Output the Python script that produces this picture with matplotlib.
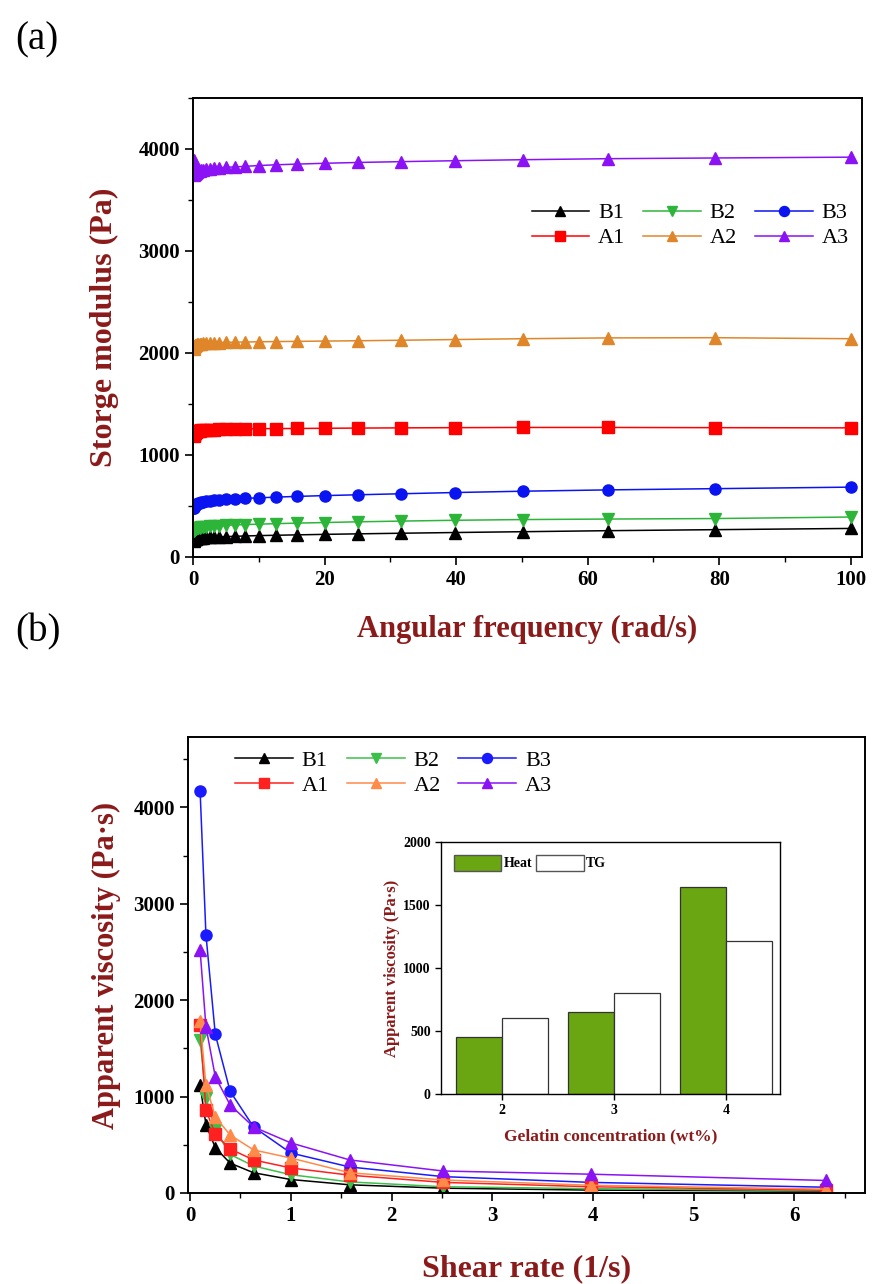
import matplotlib
matplotlib.use("Agg")
import matplotlib.pyplot as plt
from matplotlib.ticker import MultipleLocator
from matplotlib.patches import Patch

plt.rcParams['font.family'] = ['Liberation Serif', 'DejaVu Serif']

DARK_RED = '#8b1a1a'

# ---- (a) storage modulus vs angular frequency ----
freq = [0.1, 0.126, 0.158, 0.2, 0.251, 0.316, 0.398, 0.501, 0.631, 0.794,
        1.0, 1.26, 1.58, 2.0, 2.51, 3.16, 3.98, 5.01, 6.31, 7.94,
        10.0, 12.6, 15.8, 20.0, 25.1, 31.6, 39.8, 50.1, 63.1, 79.4, 100.0]

g_B1 = [160, 165, 168, 170, 172, 175, 177, 180, 182, 184,
        186, 188, 190, 192, 194, 196, 198, 200, 203, 206,
        210, 213, 217, 222, 227, 233, 240, 248, 258, 268, 280]
g_B2 = [255, 260, 265, 268, 271, 274, 277, 280, 283, 286,
        289, 292, 295, 298, 301, 304, 307, 310, 314, 318,
        322, 327, 332, 338, 345, 352, 360, 367, 372, 377, 392]
g_B3 = [480, 485, 490, 495, 500, 505, 510, 515, 520, 525,
        530, 535, 540, 545, 550, 555, 560, 565, 570, 575,
        580, 587, 594, 602, 610, 620, 632, 645, 658, 670, 685]
g_A1 = [1190, 1200, 1208, 1215, 1220, 1225, 1228, 1232, 1235, 1238,
        1240, 1242, 1244, 1246, 1248, 1250, 1252, 1254, 1255, 1256,
        1258, 1259, 1260, 1262, 1264, 1266, 1268, 1270, 1270, 1268, 1266]
g_A2 = [2040, 2050, 2058, 2065, 2070, 2074, 2078, 2082, 2085, 2088,
        2090, 2092, 2094, 2096, 2098, 2100, 2102, 2104, 2106, 2108,
        2110, 2112, 2114, 2117, 2120, 2125, 2132, 2140, 2148, 2150, 2140]
g_A3 = [3890, 3820, 3770, 3750, 3755, 3760, 3765, 3770, 3775, 3780,
        3785, 3790, 3795, 3800, 3805, 3810, 3815, 3820, 3825, 3830,
        3838, 3845, 3852, 3860, 3868, 3876, 3885, 3895, 3905, 3912, 3920]

# ---- (b) apparent viscosity vs shear rate ----
shear = [0.1, 0.158, 0.251, 0.398, 0.631, 1.0, 1.585, 2.512, 3.981, 6.31]

v_B1 = [1120, 710, 470, 310, 210, 140, 85, 50, 30, 20]
v_B2 = [1590, 990, 650, 400, 280, 190, 115, 65, 45, 25]
v_B3 = [4175, 2680, 1645, 1055, 685, 415, 270, 170, 110, 60]
v_A1 = [1740, 860, 612, 457, 343, 260, 185, 110, 65, 30]
v_A2 = [1780, 1120, 790, 602, 447, 363, 210, 135, 80, 40]
v_A3 = [2520, 1725, 1205, 914, 685, 520, 343, 228, 195, 130]

# ---- inset bars ----
conc = [2, 3, 4]
heat_visc = [455, 650, 1640]
tg_visc = [600, 800, 1215]

fig = plt.figure(figsize=(8.75, 12.84), dpi=100)
W, H = 875, 1284


def box(x0, y0, x1, y1):
    return [x0 / W, 1 - y1 / H, (x1 - x0) / W, (y1 - y0) / H]


def style_axes(ax, size=14):
    for s in ax.spines.values():
        s.set_linewidth(1.4)
    ax.tick_params(which='major', direction='out', length=6, width=1.2,
                   labelsize=size)
    ax.tick_params(which='minor', direction='out', length=3.5, width=1.0)
    for lab in ax.get_xticklabels() + ax.get_yticklabels():
        lab.set_fontweight('bold')


def row_legend(ax, **kw):
    # matplotlib fills legend columns first; reorder so rows read B1 B2 B3 / A1 A2 A3
    h, l = ax.get_legend_handles_labels()
    order = [0, 3, 1, 4, 2, 5]
    ax.legend([h[i] for i in order], [l[i] for i in order], ncol=3,
              frameon=False, fontsize=16, handlelength=2.6, columnspacing=0.8,
              handletextpad=0.4, labelspacing=0.2, markerscale=0.9, **kw)


# panel (a)
ax1 = fig.add_axes(box(193, 98, 862, 557))
series_a = [
    ('B1', g_B1, 'black', '^'),
    ('B2', g_B2, '#2db53a', 'v'),
    ('B3', g_B3, '#0a14f0', 'o'),
    ('A1', g_A1, '#ff0000', 's'),
    ('A2', g_A2, '#e0862a', '^'),
    ('A3', g_A3, '#8a12f5', '^'),
]
for name, vals, col, mk in series_a:
    ax1.plot(freq, vals, color=col, marker=mk, markersize=8, lw=1.1,
             label=name)
ax1.set_xlim(0, 101.7)
ax1.set_ylim(0, 4500)
ax1.xaxis.set_major_locator(MultipleLocator(20))
ax1.xaxis.set_minor_locator(MultipleLocator(10))
ax1.yaxis.set_major_locator(MultipleLocator(1000))
ax1.yaxis.set_minor_locator(MultipleLocator(500))
style_axes(ax1, 15)
ax1.set_xlabel('Angular frequency (rad/s)', fontsize=22, fontweight='bold',
               color=DARK_RED, labelpad=18)
ax1.set_ylabel('Storge modulus (Pa)', fontsize=23, fontweight='bold',
               color=DARK_RED, labelpad=14)
row_legend(ax1, loc='upper right', bbox_to_anchor=(1.01, 0.815))

# panel (b)
ax2 = fig.add_axes(box(188, 737, 865, 1193))
series_b = [
    ('B1', v_B1, 'black', '^'),
    ('B2', v_B2, '#3cc04a', 'v'),
    ('B3', v_B3, '#1a1aff', 'o'),
    ('A1', v_A1, '#ff2020', 's'),
    ('A2', v_A2, '#ff8a4a', '^'),
    ('A3', v_A3, '#8a12f5', '^'),
]
for name, vals, col, mk in series_b:
    ax2.plot(shear, vals, color=col, marker=mk, markersize=8, lw=1.1,
             label=name)
ax2.set_xlim(-0.02, 6.7)
ax2.set_ylim(0, 4730)
ax2.xaxis.set_major_locator(MultipleLocator(1))
ax2.xaxis.set_minor_locator(MultipleLocator(0.5))
ax2.yaxis.set_major_locator(MultipleLocator(1000))
ax2.yaxis.set_minor_locator(MultipleLocator(500))
style_axes(ax2, 15)
ax2.set_xlabel('Shear rate (1/s)', fontsize=23, fontweight='bold',
               color=DARK_RED, labelpad=20)
ax2.set_ylabel('Apparent viscosity (Pa\u00b7s)', fontsize=22,
               fontweight='bold', color=DARK_RED, labelpad=9)
row_legend(ax2, loc='upper left', bbox_to_anchor=(0.04, 1.015))

# inset
ax3 = fig.add_axes(box(441, 842, 780, 1094))
bw = 0.41
ax3.bar([c - bw for c in conc], heat_visc, width=bw, align='edge',
        color='#6aa512', edgecolor='#333333', linewidth=0.9, label='Heat')
ax3.bar(conc, tg_visc, width=bw, align='edge', color='white',
        edgecolor='#333333', linewidth=0.9, label='TG')
ax3.set_xlim(1.455, 4.48)
ax3.set_ylim(0, 2000)
ax3.set_xticks(conc)
ax3.yaxis.set_major_locator(MultipleLocator(500))
for s in ax3.spines.values():
    s.set_linewidth(1.0)
ax3.tick_params(direction='out', length=4, width=1.0, labelsize=10)
for lab in ax3.get_xticklabels() + ax3.get_yticklabels():
    lab.set_fontweight('bold')
ax3.set_xlabel('Gelatin concentration (wt%)', fontsize=12.5, fontweight='bold',
               color=DARK_RED, labelpad=8)
ax3.set_ylabel('Apparent viscosity (Pa\u00b7s)', fontsize=12,
               fontweight='bold', color=DARK_RED, labelpad=2)
handles = [Patch(facecolor='#6aa512', edgecolor='#555555', label='Heat'),
           Patch(facecolor='white', edgecolor='#555555', label='TG')]
ax3.legend(handles=handles, loc='upper left', ncol=2, frameon=False,
           prop={'weight': 'bold', 'size': 10}, handlelength=3.4,
           handleheight=1.4, columnspacing=0.3, handletextpad=0.2,
           borderaxespad=0.5)

fig.text(15 / W, 1 - 40 / H, '(a)', fontsize=28, va='center', ha='left')
fig.text(15 / W, 1 - 632 / H, '(b)', fontsize=28, va='center', ha='left')

fig.savefig('out.png', dpi=100)
